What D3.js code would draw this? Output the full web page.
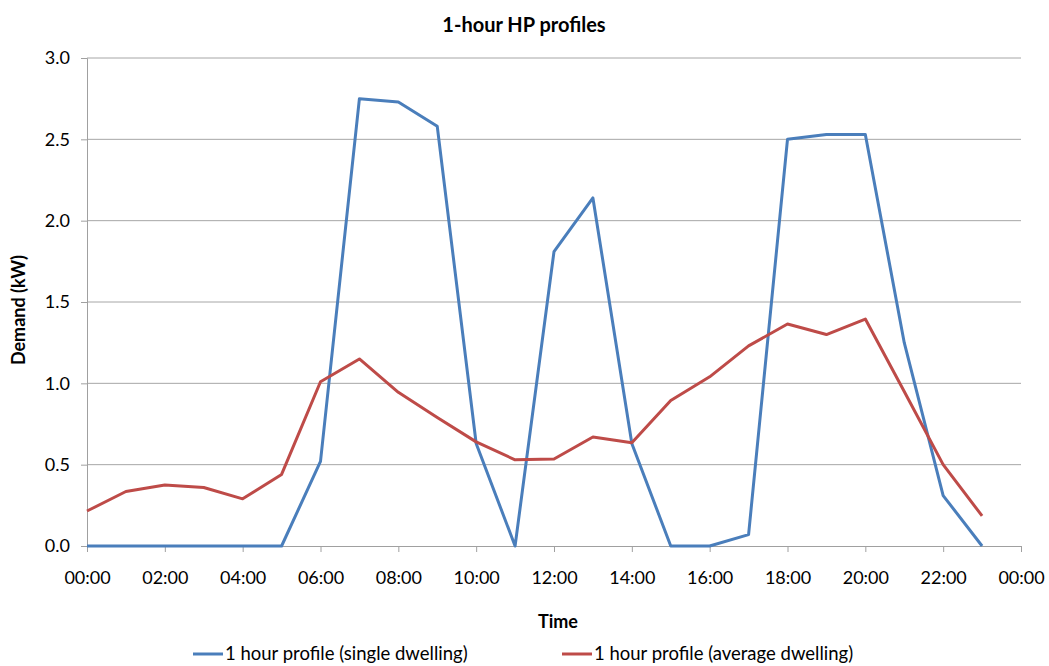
<!DOCTYPE html>
<html>
<head>
<meta charset="utf-8">
<script src="https://cdn.jsdelivr.net/npm/d3@7"></script>
<style>
  body { margin: 0; background: #fff; }
  text { font-family: Lato, "Open Sans", sans-serif; fill: #000; }
  .axis path, .axis line { stroke: #a0a0a0; }
  .grid line { stroke: #a6a6a6; }
</style>
</head>
<body>
<div class="chart"></div>
<script>
// Data: hourly HP demand (kW)
var hours = d3.range(0, 24);
var singleDwelling = [0, 0, 0, 0, 0, 0, 0.52, 2.75, 2.73, 2.58, 0.63, 0,
                      1.81, 2.14, 0.63, 0, 0, 0.07, 2.50, 2.53, 2.53, 1.25, 0.31, 0];
var averageDwelling = [0.215, 0.335, 0.375, 0.36, 0.29, 0.44, 1.01, 1.15, 0.945, 0.79, 0.64, 0.53,
                       0.535, 0.67, 0.635, 0.895, 1.04, 1.23, 1.365, 1.30, 1.395, 0.95, 0.50, 0.185];
var seriesNames = ["1 hour profile (single dwelling)", "1 hour profile (average dwelling)"];
var xTicks = d3.range(0, 25, 2);
var yTicks = [0, 0.5, 1.0, 1.5, 2.0, 2.5, 3.0];

var svgWidth = 1049;
var svgHeight = 666;

var margin = { top: 58, right: 28, bottom: 120, left: 87 };
var width = svgWidth - margin.left - margin.right;
var height = svgHeight - margin.top - margin.bottom;

var svg = d3.select(".chart")
  .append("svg")
  .attr("width", svgWidth)
  .attr("height", svgHeight);

var chartGroup = svg.append("g")
  .attr("transform", `translate(${margin.left}, ${margin.top})`);

var xScale = d3.scaleLinear().domain([0, 24]).range([0, width]);
var yScale = d3.scaleLinear().domain([0, 3]).range([height, 0]);

// gridlines
chartGroup.append("g")
  .attr("class", "grid")
  .selectAll("line")
  .data(yTicks.slice(1))
  .enter()
  .append("line")
  .attr("x1", 0)
  .attr("x2", width)
  .attr("y1", d => yScale(d))
  .attr("y2", d => yScale(d));

var fmtHour = h => String(h % 24).padStart(2, "0") + ":00";

var bottomAxis = d3.axisBottom(xScale)
  .tickValues(xTicks)
  .tickFormat(fmtHour)
  .tickSizeOuter(0)
  .tickSize(6)
  .tickPadding(19);

var leftAxis = d3.axisLeft(yScale)
  .tickValues(yTicks)
  .tickFormat(d3.format(".1f"))
  .tickSizeOuter(0)
  .tickSize(6)
  .tickPadding(11);

var gx = chartGroup.append("g")
  .attr("class", "axis")
  .attr("transform", `translate(0, ${height})`)
  .call(bottomAxis);
gx.selectAll("text").style("font-size", "18px");

var gy = chartGroup.append("g")
  .attr("class", "axis")
  .call(leftAxis);
gy.selectAll("text").style("font-size", "18px");

// lines
var line = d3.line()
  .x((d, i) => xScale(hours[i]))
  .y(d => yScale(d));

var colors = ["#4a7ebb", "#be4b48"];

chartGroup.append("path")
  .datum(singleDwelling)
  .attr("fill", "none")
  .attr("stroke", colors[0])
  .attr("stroke-width", 3)
  .attr("stroke-linejoin", "round")
  .attr("d", line);

chartGroup.append("path")
  .datum(averageDwelling)
  .attr("fill", "none")
  .attr("stroke", colors[1])
  .attr("stroke-width", 3)
  .attr("stroke-linejoin", "round")
  .attr("d", line);

// title
svg.append("text")
  .attr("x", 524)
  .attr("y", 32)
  .attr("text-anchor", "middle")
  .style("font-size", "20px")
  .style("font-weight", "bold")
  .text("1-hour HP profiles");

// axis labels
svg.append("text")
  .attr("transform", "translate(25, 310) rotate(-90)")
  .attr("text-anchor", "middle")
  .style("font-size", "18px")
  .style("font-weight", "bold")
  .text("Demand (kW)");

svg.append("text")
  .attr("x", 558)
  .attr("y", 628)
  .attr("text-anchor", "middle")
  .style("font-size", "18px")
  .style("font-weight", "bold")
  .text("Time");

// legend
var legendX = [193, 562];
var legend = svg.selectAll(".legend")
  .data(seriesNames)
  .enter()
  .append("g")
  .attr("class", "legend")
  .attr("transform", (d, i) => `translate(${legendX[i]}, 654)`);

legend.append("line")
  .attr("x1", 0)
  .attr("x2", 30)
  .attr("y1", 0)
  .attr("y2", 0)
  .attr("stroke", (d, i) => colors[i])
  .attr("stroke-width", 3);

legend.append("text")
  .attr("x", 32)
  .attr("y", 6)
  .style("font-size", "18.5px")
  .text(d => d);
</script>
</body>
</html>
